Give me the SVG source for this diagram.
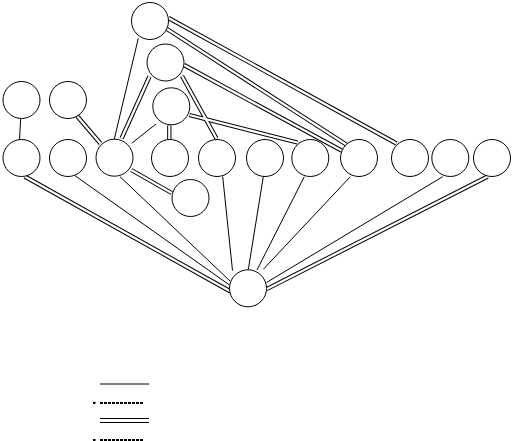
<svg xmlns="http://www.w3.org/2000/svg" width="512" height="441" viewBox="0 0 512 441">
<style>
.bg{fill:#fff}
.node circle{fill:#fff;stroke:#000;stroke-width:1}
.s{stroke:#000;stroke-width:1;fill:none}
.d1{stroke:#000;stroke-width:4.3;fill:none}
.d2{stroke:#fff;stroke-width:2.3;fill:none}
.dash{stroke:#000;stroke-width:2;stroke-dasharray:3 1;fill:none}
</style>
<defs>
<g id="dbl-AO"><line x1="168.5" y1="18" x2="396.5" y2="143.5"/></g>
</defs>
<rect class="bg" x="0" y="0" width="512" height="441"/>
<g id="connectors">
  <!-- single edges -->
  <line class="s" x1="138.3" y1="38.3" x2="114.3" y2="139"/>
  <line class="s" x1="20.7" y1="118.5" x2="19.5" y2="139.5"/>
  <line class="s" x1="156" y1="124" x2="131.7" y2="143.3"/>
  <line class="s" x1="75" y1="175.7" x2="229.5" y2="285"/>
  <line class="s" x1="120" y1="176.7" x2="230" y2="281"/>
  <line class="s" x1="222.7" y1="176.5" x2="232.5" y2="270.5"/>
  <line class="s" x1="263.3" y1="176.7" x2="248.3" y2="269.5"/>
  <line class="s" x1="304.3" y1="176.7" x2="257" y2="270"/>
  <line class="s" x1="350.3" y1="176.7" x2="263.3" y2="269.3"/>
  <line class="s" x1="442.7" y1="176.7" x2="266.5" y2="282.5"/>
  <!-- double edges: outer -->
  <g class="d1">
    <line x1="168.5" y1="18" x2="396.5" y2="143.5"/>
    <line x1="167" y1="29" x2="347" y2="145"/>
    <line x1="149.5" y1="76.5" x2="121.5" y2="138.5"/>
    <line x1="184" y1="65" x2="341.5" y2="150.5"/>
    <line x1="182" y1="76" x2="216.5" y2="138.5"/>
    <line x1="77" y1="116" x2="100.5" y2="143.5"/>
    <line x1="169.3" y1="125.5" x2="169.3" y2="139.5"/>
    <line x1="189.3" y1="115" x2="297.5" y2="142.5"/>
    <line x1="131.3" y1="170" x2="171.7" y2="193"/>
    <line x1="24.7" y1="176.5" x2="230.5" y2="291.5"/>
    <line x1="487.7" y1="176.5" x2="266.5" y2="289.2"/>
  </g>
  <g class="d2">
    <line x1="168.5" y1="18" x2="396.5" y2="143.5"/>
    <line x1="167" y1="29" x2="347" y2="145"/>
    <line x1="149.5" y1="76.5" x2="121.5" y2="138.5"/>
    <line x1="184" y1="65" x2="341.5" y2="150.5"/>
    <line x1="182" y1="76" x2="216.5" y2="138.5"/>
    <line x1="77" y1="116" x2="100.5" y2="143.5"/>
    <line x1="169.3" y1="125.5" x2="169.3" y2="139.5"/>
    <line x1="189.3" y1="115" x2="297.5" y2="142.5"/>
    <line x1="131.3" y1="170" x2="171.7" y2="193"/>
    <line x1="24.7" y1="176.5" x2="230.5" y2="291.5"/>
    <line x1="487.7" y1="176.5" x2="266.5" y2="289.2"/>
  </g>
</g>
<g id="nodes" class="node">
  <g id="nA"><circle cx="150" cy="21" r="18.5"/></g>
  <g id="nB"><circle cx="165.5" cy="62.5" r="18.5"/></g>
  <g id="nC"><circle cx="21.5" cy="100" r="18.5"/></g>
  <g id="nD"><circle cx="68" cy="100" r="18.5"/></g>
  <g id="nE"><circle cx="171.3" cy="106.3" r="18.5"/></g>
  <g id="nF"><circle cx="21.5" cy="158" r="18.5"/></g>
  <g id="nG"><circle cx="68" cy="158" r="18.5"/></g>
  <g id="nH"><circle cx="114.5" cy="157.7" r="18.5"/></g>
  <g id="nI"><circle cx="170" cy="158" r="18.5"/></g>
  <g id="nJ"><circle cx="217" cy="158" r="18.5"/></g>
  <g id="nK"><circle cx="190.5" cy="198" r="18.5"/></g>
  <g id="nL"><circle cx="265" cy="158" r="18.5"/></g>
  <g id="nM"><circle cx="310.3" cy="158" r="18.5"/></g>
  <g id="nN"><circle cx="359" cy="158" r="18.5"/></g>
  <g id="nO"><circle cx="410" cy="158" r="18.5"/></g>
  <g id="nP"><circle cx="450.3" cy="158" r="18.5"/></g>
  <g id="nQ"><circle cx="492" cy="158" r="18.5"/></g>
  <g id="nR"><circle cx="248" cy="288.3" r="18.5"/></g>
</g>
<g id="legend">
  <line class="s" x1="100" y1="384" x2="149" y2="384"/>
  <rect x="93" y="401.8" width="2.5" height="2.2" fill="#000"/>
  <line class="dash" x1="100" y1="403" x2="143" y2="403"/>
  <line class="s" x1="100" y1="418.5" x2="149" y2="418.5"/>
  <line class="s" x1="100" y1="422.5" x2="149" y2="422.5"/>
  <rect x="93" y="439" width="2.5" height="2" fill="#000"/>
  <line class="dash" x1="100" y1="440" x2="143" y2="440"/>
</g>
</svg>
